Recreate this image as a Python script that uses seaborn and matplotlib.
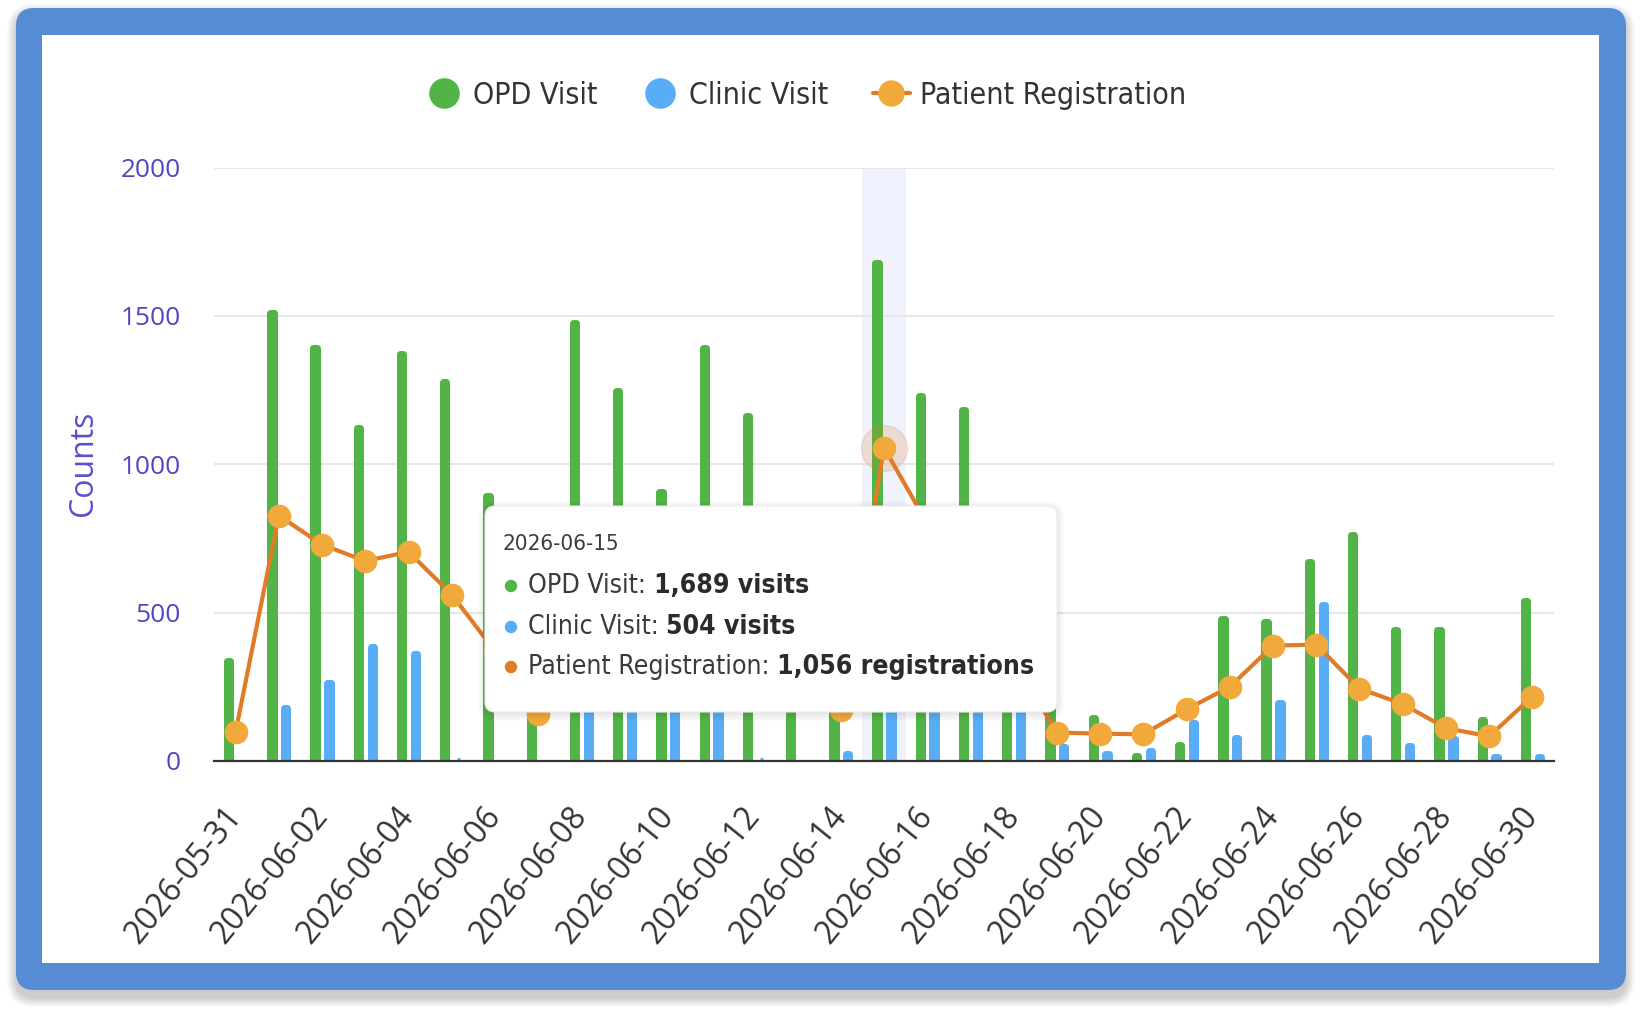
import numpy as np
import pandas as pd
import matplotlib
matplotlib.use("Agg")
import matplotlib.pyplot as plt
import seaborn as sns
from matplotlib import font_manager
from matplotlib.font_manager import FontProperties
from matplotlib.patches import FancyBboxPatch, Circle, Rectangle
from matplotlib.lines import Line2D

# ---------------- data ----------------
dates = ["2026-05-31", "2026-06-01", "2026-06-02", "2026-06-03", "2026-06-04",
         "2026-06-05", "2026-06-06", "2026-06-07", "2026-06-08", "2026-06-09",
         "2026-06-10", "2026-06-11", "2026-06-12", "2026-06-13", "2026-06-14",
         "2026-06-15", "2026-06-16", "2026-06-17", "2026-06-18", "2026-06-19",
         "2026-06-20", "2026-06-21", "2026-06-22", "2026-06-23", "2026-06-24",
         "2026-06-25", "2026-06-26", "2026-06-27", "2026-06-28", "2026-06-29",
         "2026-06-30"]
opd = [348, 1523, 1403, 1133, 1385, 1290, 905, 640, 1488, 1259, 917, 1403, 1176,
       560, 720, 1689, 1241, 1194, 690, 420, 157, 27, 65, 489, 481, 681, 772, 453,
       453, 150, 552]
clinic = [0, 192, 273, 396, 374, 12, 0, 0, 330, 350, 300, 320, 12, 0, 34, 504,
          360, 340, 310, 60, 34, 46, 141, 89, 206, 536, 89, 61, 85, 26, 26]
reg = [98, 827, 729, 674, 705, 561, 370, 160, 520, 430, 610, 480, 350, 260, 172,
       1056, 800, 560, 340, 96, 92, 90, 174, 250, 389, 392, 244, 192, 111, 83, 217]
series_names = ["OPD Visit", "Clinic Visit", "Patient Registration"]
series_units = ["visits", "visits", "registrations"]
y_ticks = [0, 500, 1000, 1500, 2000]
y_title = "Counts"
hover_date = "2026-06-15"

# ---------------- style ----------------
GREEN = "#52b447"
BLUE = "#59adf6"
LINE = "#e07b27"
MARK = "#f2a93b"
FRAME = "#568cd4"
TICK = "#5046c4"
BAND = "#f0f3fd"

sns.set_theme(style="white")
plt.rcParams["font.family"] = ["Open Sans", "DejaVu Sans"]

fm = font_manager.fontManager


def _w(f):
    w = f.weight
    if isinstance(w, str):
        w = {"normal": 400, "regular": 400, "book": 400, "medium": 500,
             "bold": 700, "semibold": 600, "light": 300}.get(w.lower(), 400)
    return w


def find_cond(weight):
    for name in ["Liberation Sans Narrow", "DejaVu Sans", "Open Sans", "Roboto", "Noto Sans"]:
        for f in fm.ttflist:
            if f.style != "normal":
                continue
            cond = ("Narrow" in f.name or "Condensed" in f.name
                    or "condensed" in str(f.stretch))
            if f.name.startswith(name) and cond and abs(_w(f) - weight) < 60:
                return f.fname
    return None


COND_REG = find_cond(400)
COND_BOLD = find_cond(700)


def cfont(kind, size):
    path = COND_BOLD if kind == "bold" else COND_REG
    if path:
        return FontProperties(fname=path, size=size)
    return FontProperties(family=["Liberation Sans", "DejaVu Sans"], weight=kind, size=size)


W, H = 1642, 1015
fig = plt.figure(figsize=(W / 100, H / 100), dpi=100, facecolor="white")
renderer = fig.canvas.get_renderer()


def text_width(s, fp):
    t = fig.text(0, 0, s, fontproperties=fp)
    w = t.get_window_extent(renderer=renderer).width
    t.remove()
    return w


def fit_plain(s, target, family=("Open Sans", "DejaVu Sans")):
    fp = FontProperties(family=list(family), size=20)
    return 20 * target / text_width(s, fp)


# ---------------- background frame ----------------
bg = fig.add_axes([0, 0, 1, 1], zorder=0)
bg.set_xlim(0, W)
bg.set_ylim(H, 0)
bg.axis("off")
for k in range(10):
    bg.add_patch(FancyBboxPatch((16 - k, 13 - k), 1610 + 2 * k, 985 + 2 * k,
                                boxstyle=f"round,pad=0,rounding_size={18 + k}",
                                fc="#000000", ec="none", alpha=0.018))
bg.add_patch(FancyBboxPatch((16, 8), 1610, 982, boxstyle="round,pad=0,rounding_size=18",
                            fc=FRAME, ec="none"))
bg.add_patch(Rectangle((42, 35), 1557, 928, fc="white", ec="none"))

# ---------------- chart axes ----------------
AX_L, AX_R, AX_T, AX_B = 214, 1554, 167.5, 761
ax = fig.add_axes([AX_L / W, 1 - AX_B / H, (AX_R - AX_L) / W, (AX_B - AX_T) / H], zorder=1)
ax.set_facecolor("none")

bar_df = pd.DataFrame({
    "date": dates + dates,
    "count": opd + clinic,
    "series": [series_names[0]] * len(dates) + [series_names[1]] * len(dates),
})
sns.barplot(data=bar_df, x="date", y="count", hue="series", order=dates,
            hue_order=series_names[:2], palette=[GREEN, BLUE], width=0.64, gap=0.76,
            saturation=1, errorbar=None, legend=False, ax=ax, zorder=2)
ax.set_ylim(y_ticks[0], y_ticks[-1])

px_per_unit = (AX_B - AX_T) / (y_ticks[-1] - y_ticks[0])
EDGE_PX = 7.0
for bar in list(ax.patches):
    h = bar.get_height()
    if not np.isfinite(h) or h <= 0:
        bar.set_visible(False)
        continue
    fc = bar.get_facecolor()
    bar.set_edgecolor(fc)
    bar.set_linewidth(EDGE_PX * 72 / 100)
    bar.set_joinstyle("round")
    bar.set_height(max(h - (EDGE_PX / 2) / px_per_unit, 0.3))

idx = dates.index(hover_date)
ax.axvspan(idx - 0.5, idx + 0.5, color=BAND, lw=0, zorder=0.5)

sns.pointplot(x=dates, y=reg, order=dates, color=LINE, errorbar=None, markers="o",
              linewidth=3, markersize=17, markerfacecolor=MARK, markeredgecolor=MARK,
              markeredgewidth=0, ax=ax, zorder=4)
ax.plot([idx], [reg[idx]], marker="o", ms=33, color=LINE, alpha=0.2, lw=0, zorder=3.5)
ax.set_ylim(y_ticks[0], y_ticks[-1])
ax.set_xlim(-0.5, len(dates) - 0.5)

ax.set_yticks(y_ticks)
ax.yaxis.grid(True, color="#e4e4e4", lw=1.3)
ax.xaxis.grid(False)
ax.set_axisbelow(True)
for s in ["left", "right", "top"]:
    ax.spines[s].set_visible(False)
ax.spines["bottom"].set_color("#333333")
ax.spines["bottom"].set_linewidth(1.6)
ax.spines["bottom"].set_zorder(6)

ysize = fit_plain("2000", 60)
ax.tick_params(axis="y", length=0, pad=24, labelcolor=TICK, labelsize=ysize)
xsize = fit_plain("2026-05-31", 166)
ax.tick_params(axis="x", length=0, pad=36, labelcolor="#333333", labelsize=xsize)
for i, lbl in enumerate(ax.get_xticklabels()):
    lbl.set_rotation(51)
    lbl.set_ha("right")
    lbl.set_va("center")
    lbl.set_rotation_mode("anchor")
    lbl.set_visible(i % 2 == 0)
ax.set_xlabel("")
ax.set_ylabel(y_title, color="#5b4fcf", fontsize=fit_plain(y_title, 105))
ax.yaxis.set_label_coords((84 - AX_L) / (AX_R - AX_L), (AX_B - 463) / (AX_B - AX_T))
ax.yaxis.label.set_va("center")

# ---------------- legend ----------------
leg_size = 20 * 266 / text_width(series_names[2], cfont("normal", 20))
handles = [
    Line2D([], [], ls="none", marker="o", ms=21, mfc=GREEN, mec=GREEN),
    Line2D([], [], ls="none", marker="o", ms=21, mfc=BLUE, mec=BLUE),
    Line2D([], [], color=LINE, lw=3, marker="o", ms=18, mfc=MARK, mec=MARK),
]
fig.legend(handles, series_names, loc="center", bbox_to_anchor=(806 / W, 1 - 95 / H),
           ncol=3, frameon=False, prop=cfont("normal", leg_size), handlelength=1.2,
           handletextpad=0.35, columnspacing=1.5, labelcolor="#333333")

# ---------------- tooltip ----------------
ov = fig.add_axes([0, 0, 1, 1], zorder=3)
ov.set_xlim(0, W)
ov.set_ylim(H, 0)
ov.axis("off")
TX, TY, TW, TH = 485, 506, 572, 206
for k in range(8):
    ov.add_patch(FancyBboxPatch((TX - k, TY - k + 2), TW + 2 * k, TH + 2 * k,
                                boxstyle=f"round,pad=0,rounding_size={10 + k}",
                                fc="#000000", ec="none", alpha=0.012))
ov.add_patch(FancyBboxPatch((TX, TY), TW, TH, boxstyle="round,pad=0,rounding_size=10",
                            fc="white", ec="#ececec", lw=0.8))
title_size = 20 * 116 / text_width(hover_date, cfont("normal", 20))
ov.text(503, 544, hover_date, fontproperties=cfont("normal", title_size),
        color="#3c3c3c", ha="left", va="center")
row_vals = [opd[idx], clinic[idx], reg[idx]]
row_cols = [GREEN, BLUE, LINE]
w_ref = (text_width(f"{series_names[2]}: ", cfont("normal", 20))
         + text_width(f"{row_vals[2]:,} {series_units[2]}", cfont("bold", 20)))
row_size = 20 * 507 / w_ref
for k, yy in enumerate([586, 627, 667]):
    ov.add_patch(Circle((511, yy), 5.5, color=row_cols[k]))
    t = ov.text(528, yy, f"{series_names[k]}: ", fontproperties=cfont("normal", row_size),
                color="#3a3a3a", ha="left", va="center")
    wpx = t.get_window_extent(renderer=renderer).width
    ov.text(528 + wpx, yy, f"{row_vals[k]:,} {series_units[k]}",
            fontproperties=cfont("bold", row_size), color="#2b2b2b", ha="left", va="center")

fig.savefig("out.png", dpi=100, facecolor=fig.get_facecolor())
